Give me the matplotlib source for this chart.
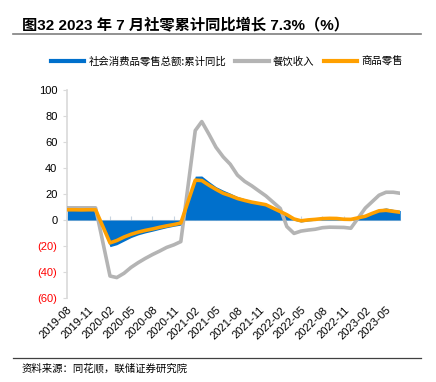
import numpy as np
import pandas as pd
import matplotlib
matplotlib.use('Agg')
from matplotlib import pyplot as plt
from matplotlib.ticker import FuncFormatter
from matplotlib.lines import Line2D
import matplotlib.dates as mdates

plt.rcParams['font.family'] = ['Liberation Sans', 'Noto Sans CJK SC', 'DejaVu Sans']

# monthly cumulative yoy, January merged into Feb (no Jan points)
months = ['2019-08', '2019-09', '2019-10', '2019-11', '2019-12',
          '2020-02', '2020-03', '2020-04', '2020-05', '2020-06', '2020-07',
          '2020-08', '2020-09', '2020-10', '2020-11', '2020-12',
          '2021-02', '2021-03', '2021-04', '2021-05', '2021-06', '2021-07',
          '2021-08', '2021-09', '2021-10', '2021-11', '2021-12',
          '2022-02', '2022-03', '2022-04', '2022-05', '2022-06', '2022-07',
          '2022-08', '2022-09', '2022-10', '2022-11', '2022-12',
          '2023-02', '2023-03', '2023-04', '2023-05', '2023-06', '2023-07']
retail = [8.2, 8.2, 8.1, 8.0, 8.0,
          -20.5, -19.0, -16.2, -13.5, -11.4, -9.9, -8.6, -7.2, -5.9, -4.8, -3.9,
          33.8, 33.9, 29.6, 25.7, 23.0, 20.7, 18.1, 16.4, 14.9, 13.7, 12.5,
          6.7, 3.3, -0.2, -1.5, -0.7, -0.2, 0.5, 0.7, 0.6, -0.1, -0.2,
          3.5, 5.8, 8.5, 9.3, 8.2, 7.3]
catering = [9.4, 9.4, 9.4, 9.4, 9.4,
            -43.1, -44.3, -41.0, -36.5, -32.8, -29.6, -26.6, -23.9, -21.1, -19.1, -16.6,
            68.9, 75.8, 66.0, 56.0, 48.6, 43.0, 34.6, 29.8, 26.4, 22.4, 18.6,
            8.9, -5.0, -10.3, -8.5, -7.7, -7.1, -5.9, -5.5, -5.6, -5.7, -6.3,
            9.2, 13.9, 19.1, 21.4, 21.4, 20.6]
goods = [7.9, 7.9, 7.8, 7.9, 7.9,
         -17.6, -15.8, -13.1, -11.0, -9.3, -8.0, -6.9, -5.6, -4.5, -3.5, -2.3,
         30.7, 30.4, 26.8, 23.6, 20.6, 18.8, 16.6, 15.1, 13.8, 12.8, 11.8,
         6.5, 4.1, 0.8, -0.6, 0.1, 0.5, 1.1, 1.3, 1.2, 0.6, 0.5,
         2.9, 5.0, 7.1, 7.5, 6.7, 6.0]
tick_months = ['2019-08', '2019-11', '2020-02', '2020-05', '2020-08', '2020-11',
               '2021-02', '2021-05', '2021-08', '2021-11', '2022-02', '2022-05',
               '2022-08', '2022-11', '2023-02', '2023-05']

x = pd.to_datetime(months)
xt = pd.to_datetime(tick_months)

fig = plt.figure(figsize=(4.36, 3.82), dpi=100)
ax = fig.add_axes([0.154, 0.22, 0.764, 0.544])

ax.fill_between(x, 0, retail, color='#0070cc', lw=0, zorder=2)
ax.plot(x, catering, color='#b4b4b4', lw=2.6, zorder=3)
ax.plot(x, goods, color='#ffa000', lw=2.6, zorder=4)

ax.set_xlim(x[0], x[-1])
ax.set_ylim(-60, 100)
ax.set_yticks(np.arange(-60, 101, 20))
ax.yaxis.set_major_formatter(FuncFormatter(lambda v, p: '(%d)' % abs(v) if v < 0 else '%d' % v))
for lab, v in zip(ax.get_yticklabels(), ax.get_yticks()):
    if v < 0:
        lab.set_color('red')
ax.tick_params(axis='y', labelsize=8, length=3, color='#d9d9d9', pad=4)

# zero line with ticks, labels on a twin axis at the bottom
ax.spines['bottom'].set_position(('data', 0))
ax.spines['bottom'].set_color('#d9d9d9')
ax.spines['bottom'].set_zorder(1)
ax.spines['left'].set_color('#d9d9d9')
ax.spines['left'].set_linewidth(1.2)
ax.spines['top'].set_visible(False)
ax.spines['right'].set_visible(False)
ax.set_xticks(xt)
ax.tick_params(axis='x', direction='in', length=3, color='#c8d4e0', labelbottom=False)

ax2 = ax.twiny()
ax2.set_position(ax.get_position())
ax2.set_xlim(ax.get_xlim())
ax2.xaxis.set_ticks_position('bottom')
ax2.xaxis.set_label_position('bottom')
ax2.set_xticks(xt)
ax2.xaxis.set_major_formatter(mdates.DateFormatter('%Y-%m'))
ax2.tick_params(axis='x', length=0, labelsize=8, pad=5)
plt.setp(ax2.get_xticklabels(), rotation=45, ha='right', rotation_mode='anchor')
for s in ax2.spines.values():
    s.set_visible(False)

h = [Line2D([], [], color='#0070cc', lw=3),
     Line2D([], [], color='#b4b4b4', lw=3),
     Line2D([], [], color='#ffa000', lw=3)]
l = ['社会消费品零售总额:累计同比', '餐饮收入', '商品零售']
fig.legend(h, l, loc='center', bbox_to_anchor=(0.52, 0.838), ncol=3, frameon=False,
           handlelength=3.2, handletextpad=0.4, columnspacing=0.9,
           prop={'family': ['Noto Sans CJK SC'], 'size': 7.5})

fig.text(0.05, 0.936, '图32 2023 年 7 月社零累计同比增长 7.3%（%）', fontsize=11,
         fontweight='bold', va='center', ha='left',
         family=['Liberation Sans', 'Noto Sans CJK SC'])
fig.add_artist(Line2D([0.03, 0.965], [0.91, 0.91], color='#7f7f7f', lw=1.2))
fig.add_artist(Line2D([0.03, 0.965], [0.063, 0.063], color='#404040', lw=0.9))
fig.text(0.05, 0.035, '资料来源：同花顺，联储证券研究院', fontsize=7.5, va='center',
         family=['Noto Sans CJK SC'])

fig.savefig('out.png', dpi=100)
